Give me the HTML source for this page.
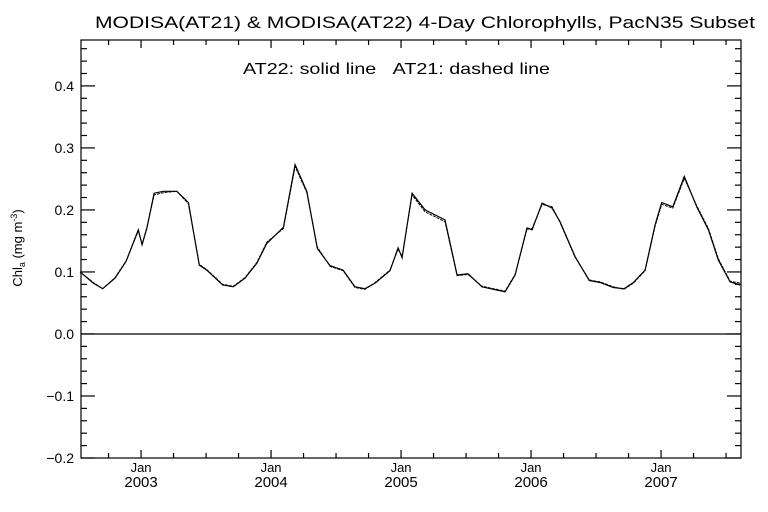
<!DOCTYPE html>
<html><head><meta charset="utf-8"><style>
html,body{margin:0;padding:0;background:#fff;}
svg{display:block;font-family:"Liberation Sans","DejaVu Sans",sans-serif;}
text{fill:#000;}
</style></head><body>
<svg id="chart" width="768" height="512" viewBox="0 0 768 512" xmlns="http://www.w3.org/2000/svg">
<text x="95" y="28" font-size="17" textLength="660" lengthAdjust="spacingAndGlyphs">MODISA(AT21) &amp; MODISA(AT22) 4-Day Chlorophylls, PacN35 Subset</text>
<text x="243" y="74" font-size="16" textLength="307" lengthAdjust="spacingAndGlyphs">AT22: solid line&#160;&#160;&#160;AT21: dashed line</text>
<text transform="translate(22,248) rotate(-90)" font-size="13" text-anchor="middle">Chl<tspan font-size="9" dy="3">a</tspan><tspan dy="-3"> (mg m</tspan><tspan font-size="9" dy="-5">-3</tspan><tspan dy="5">)</tspan></text>
<g id="axes"></g>
<g id="series"></g>
</svg>
<script>
const yTicks = [-0.2, -0.1, 0.0, 0.1, 0.2, 0.3, 0.4];
const yTickLabels = ["\u22120.2", "\u22120.1", "0.0", "0.1", "0.2", "0.3", "0.4"];
const xYears = [2003, 2004, 2005, 2006, 2007];
const xYearLabels = ["2003", "2004", "2005", "2006", "2007"];
const dates = [2002.531,2002.633,2002.705,2002.8,2002.885,2002.979,2003.008,2003.044,2003.1,2003.172,2003.275,2003.364,2003.448,2003.505,2003.628,2003.71,2003.8,2003.89,2003.967,2004.095,2004.185,2004.275,2004.356,2004.454,2004.554,2004.646,2004.723,2004.8,2004.915,2004.977,2005.008,2005.085,2005.185,2005.338,2005.431,2005.515,2005.623,2005.8,2005.877,2005.969,2006.008,2006.085,2006.162,2006.223,2006.338,2006.448,2006.531,2006.633,2006.715,2006.787,2006.877,2006.954,2007.005,2007.09,2007.179,2007.274,2007.364,2007.441,2007.531,2007.608];
const at22 = [0.1,0.082,0.073,0.090,0.117,0.168,0.144,0.170,0.227,0.230,0.230,0.212,0.111,0.103,0.079,0.076,0.090,0.114,0.146,0.172,0.273,0.230,0.138,0.110,0.103,0.076,0.073,0.082,0.102,0.139,0.123,0.227,0.200,0.184,0.095,0.097,0.076,0.068,0.095,0.171,0.168,0.211,0.203,0.181,0.125,0.086,0.083,0.075,0.073,0.083,0.103,0.176,0.212,0.205,0.254,0.205,0.168,0.119,0.084,0.079];
const at21 = [0.1,0.083,0.073,0.091,0.118,0.166,0.145,0.171,0.224,0.228,0.230,0.210,0.112,0.104,0.080,0.077,0.091,0.115,0.148,0.170,0.270,0.228,0.140,0.109,0.102,0.075,0.072,0.083,0.103,0.137,0.125,0.224,0.197,0.181,0.094,0.096,0.077,0.069,0.096,0.169,0.170,0.209,0.205,0.180,0.124,0.087,0.084,0.076,0.072,0.082,0.102,0.174,0.209,0.203,0.251,0.207,0.170,0.121,0.085,0.082];

const L=81, R=741, T=40, B=458;
const X0=2002.538, X1=2007.615, Y0=-0.2, Y1=0.474;
const sx = v => L + (v - X0) / (X1 - X0) * (R - L);
const sy = v => B - (v - Y0) / (Y1 - Y0) * (B - T);
const NS = "http://www.w3.org/2000/svg";
const axes = document.getElementById('axes');
const series = document.getElementById('series');
function mk(tag, attrs, parent){const e=document.createElementNS(NS,tag);for(const k in attrs)e.setAttribute(k,attrs[k]);parent.appendChild(e);return e;}

const frame = mk('rect',{x:L,y:T,width:R-L,height:B-T,fill:'none',stroke:'#000','stroke-width':1.2},axes);



for(let i=0;i<=33;i++){
  const v=Y0+i*0.02; if(v>Y1) break;
  const y=sy(v);
  const isMajor = Math.abs(Math.round(v*10)-v*10)<1e-6;
  const len = isMajor?14:6;
  const t1=mk('line',{x1:L,y1:y,x2:L+len,y2:y,stroke:'#000','stroke-width':1.2},axes);
  
  
  const t2=mk('line',{x1:R,y1:y,x2:R-len,y2:y,stroke:'#000','stroke-width':1.2},axes);
  
  
}
yTicks.forEach((v,i)=>{
  const t=mk('text',{x:L-7,y:sy(v)+5,'font-size':14,'text-anchor':'end'},axes);
  t.textContent=yTickLabels[i];
  
  
});
for(let q=2002.5;q<X1;q+=0.25){
  if(q<X0) continue;
  const x=sx(q);
  const isMajor=Math.abs(q-Math.round(q))<1e-6;
  const len=isMajor?8:5;
  const a=mk('line',{x1:x,y1:B,x2:x,y2:B-len,stroke:'#000','stroke-width':1.2},axes);
  
  
  const b=mk('line',{x1:x,y1:T,x2:x,y2:T+len,stroke:'#000','stroke-width':1.2},axes);
  
  
}
xYears.forEach((yr,i)=>{
  const x=sx(yr);
  const m=mk('text',{x:x,y:472,'font-size':13,'text-anchor':'middle'},axes);
  m.textContent='Jan';
  
  
  const t=mk('text',{x:x,y:487,'font-size':15,'text-anchor':'middle'},axes);
  t.textContent=xYearLabels[i];
  
  
});
const zl=mk('line',{x1:L,y1:sy(0),x2:R,y2:sy(0),stroke:'#000','stroke-width':1.2},axes);



function pts(vals){return dates.map((d,i)=>sx(d).toFixed(1)+','+sy(vals[i]).toFixed(1)).join(' ');}
const p21=mk('polyline',{points:pts(at21),fill:'none',stroke:'#000','stroke-width':1,'stroke-dasharray':'3,1'},series);


const p22=mk('polyline',{points:pts(at22),fill:'none',stroke:'#000','stroke-width':1.2},series);


</script>
</body></html>
